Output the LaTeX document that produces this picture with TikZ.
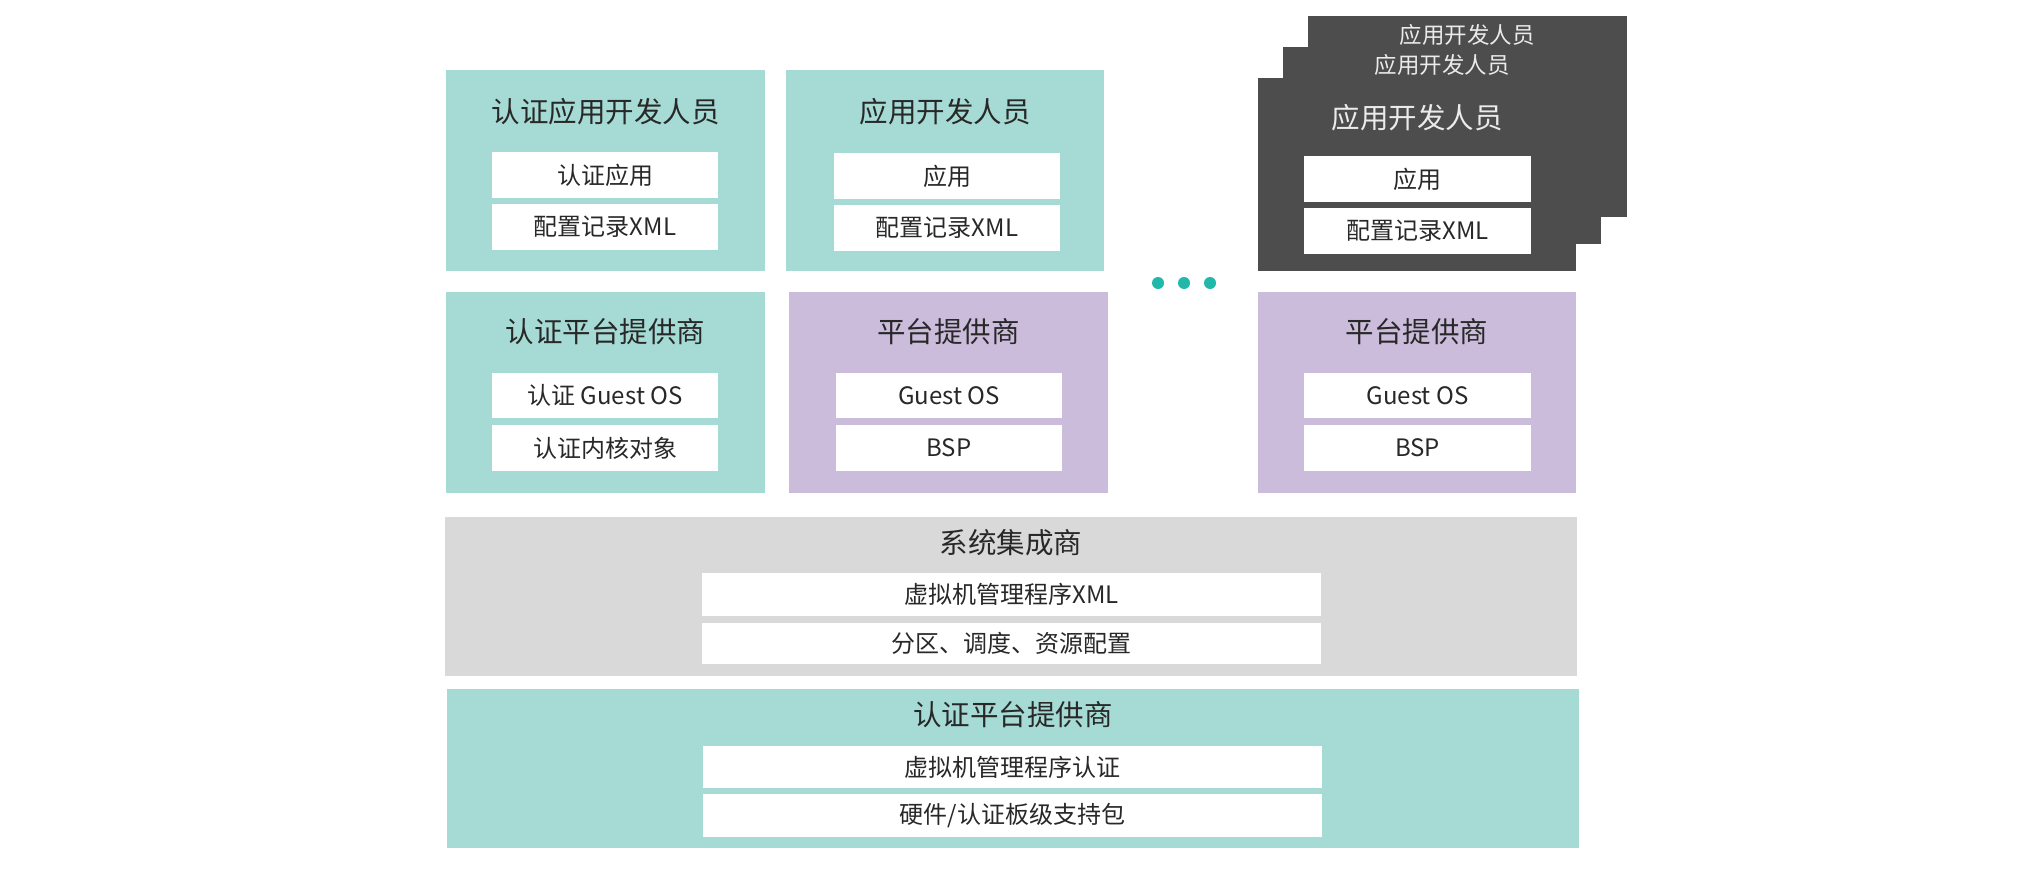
\documentclass[tikz,border=0pt]{standalone}
\usepackage{fontspec}
\setmainfont{Noto Sans CJK SC}
\definecolor{tealbg}{RGB}{165,218,213}
\definecolor{purplebg}{RGB}{203,188,220}
\definecolor{graybg}{RGB}{217,217,217}
\definecolor{darkbg}{RGB}{77,77,77}
\definecolor{dotc}{RGB}{32,184,170}
\definecolor{txt}{RGB}{40,40,40}
\definecolor{lighttxt}{RGB}{235,235,235}
\tikzset{
  panel/.style={inner sep=0pt, outer sep=0pt, draw=none},
  item/.style={panel, fill=white, text=txt, font=\fontsize{24}{28}\selectfont},
  title/.style={inner sep=0pt, text=txt, font=\fontsize{28.5}{33}\selectfont},
  dtitle/.style={inner sep=0pt, text=lighttxt, font=\fontsize{28.5}{33}\selectfont},
  btitle/.style={inner sep=0pt, text=lighttxt, font=\fontsize{22.5}{27}\selectfont},
}
\begin{document}
\begin{tikzpicture}[x=1pt,y=-1pt]
\useasboundingbox (0,0) rectangle (2034,870);
\fill[white] (0,0) rectangle (2034,870);
% top left
\node[panel, fill=tealbg, minimum width=319, minimum height=201] (p1) at (605.5,170.5) {};
\node[title] (t1) at (605.5,112) {认证应用开发人员};
\node[item, minimum width=226, minimum height=46] (i11) at (605,175) {认证应用};
\node[item, minimum width=226, minimum height=46] (i12) at (605,227) {配置记录XML};
% top mid
\node[panel, fill=tealbg, minimum width=318, minimum height=201] (p2) at (945,170.5) {};
\node[title] (t2) at (945,112) {应用开发人员};
\node[item, minimum width=226, minimum height=46] (i21) at (947,176) {应用};
\node[item, minimum width=226, minimum height=46] (i22) at (947,228) {配置记录XML};
% dark stack
\node[panel, fill=darkbg, minimum width=319, minimum height=201] (d3) at (1467.5,116.5) {};
\node[btitle] (dt3) at (1467,35) {应用开发人员};
\node[panel, fill=darkbg, minimum width=318, minimum height=197] (d2) at (1442,145.5) {};
\node[btitle] (dt2) at (1442,65) {应用开发人员};
\node[panel, fill=darkbg, minimum width=318, minimum height=193] (d1) at (1417,174.5) {};
\node[dtitle] (dt1) at (1417,118) {应用开发人员};
\node[item, minimum width=227, minimum height=46] (di1) at (1417.5,179) {应用};
\node[item, minimum width=227, minimum height=46] (di2) at (1417.5,231) {配置记录XML};
% dots
\fill[dotc] (1158,283) circle (6) (1184,283) circle (6) (1210,283) circle (6);
% second row
\node[panel, fill=tealbg, minimum width=319, minimum height=201] (p3) at (605.5,392.5) {};
\node[title] (t3) at (605.5,332) {认证平台提供商};
\node[item, minimum width=226, minimum height=45] (i31) at (605,395.5) {认证 Guest OS};
\node[item, minimum width=226, minimum height=46] (i32) at (605,448) {认证内核对象};
\node[panel, fill=purplebg, minimum width=319, minimum height=201] (p4) at (948.5,392.5) {};
\node[title] (t4) at (948.5,332) {平台提供商};
\node[item, minimum width=226, minimum height=45] (i41) at (949,395.5) {Guest OS};
\node[item, minimum width=226, minimum height=46] (i42) at (949,448) {BSP};
\node[panel, fill=purplebg, minimum width=318, minimum height=201] (p5) at (1417,392.5) {};
\node[title] (t5) at (1417,332) {平台提供商};
\node[item, minimum width=227, minimum height=45] (i51) at (1417.5,395.5) {Guest OS};
\node[item, minimum width=227, minimum height=46] (i52) at (1417.5,448) {BSP};
% system integrator
\node[panel, fill=graybg, minimum width=1132, minimum height=159] (p6) at (1011,596.5) {};
\node[title] (t6) at (1011,543) {系统集成商};
\node[item, minimum width=619, minimum height=43] (i61) at (1011.5,594.5) {虚拟机管理程序XML};
\node[item, minimum width=619, minimum height=41] (i62) at (1011.5,643.5) {分区、调度、资源配置};
% certified platform provider bottom
\node[panel, fill=tealbg, minimum width=1132, minimum height=159] (p7) at (1013,768.5) {};
\node[title] (t7) at (1013,715) {认证平台提供商};
\node[item, minimum width=619, minimum height=42] (i71) at (1012.5,767) {虚拟机管理程序认证};
\node[item, minimum width=619, minimum height=43] (i72) at (1012.5,815.5) {硬件/认证板级支持包};
\end{tikzpicture}
\end{document}
